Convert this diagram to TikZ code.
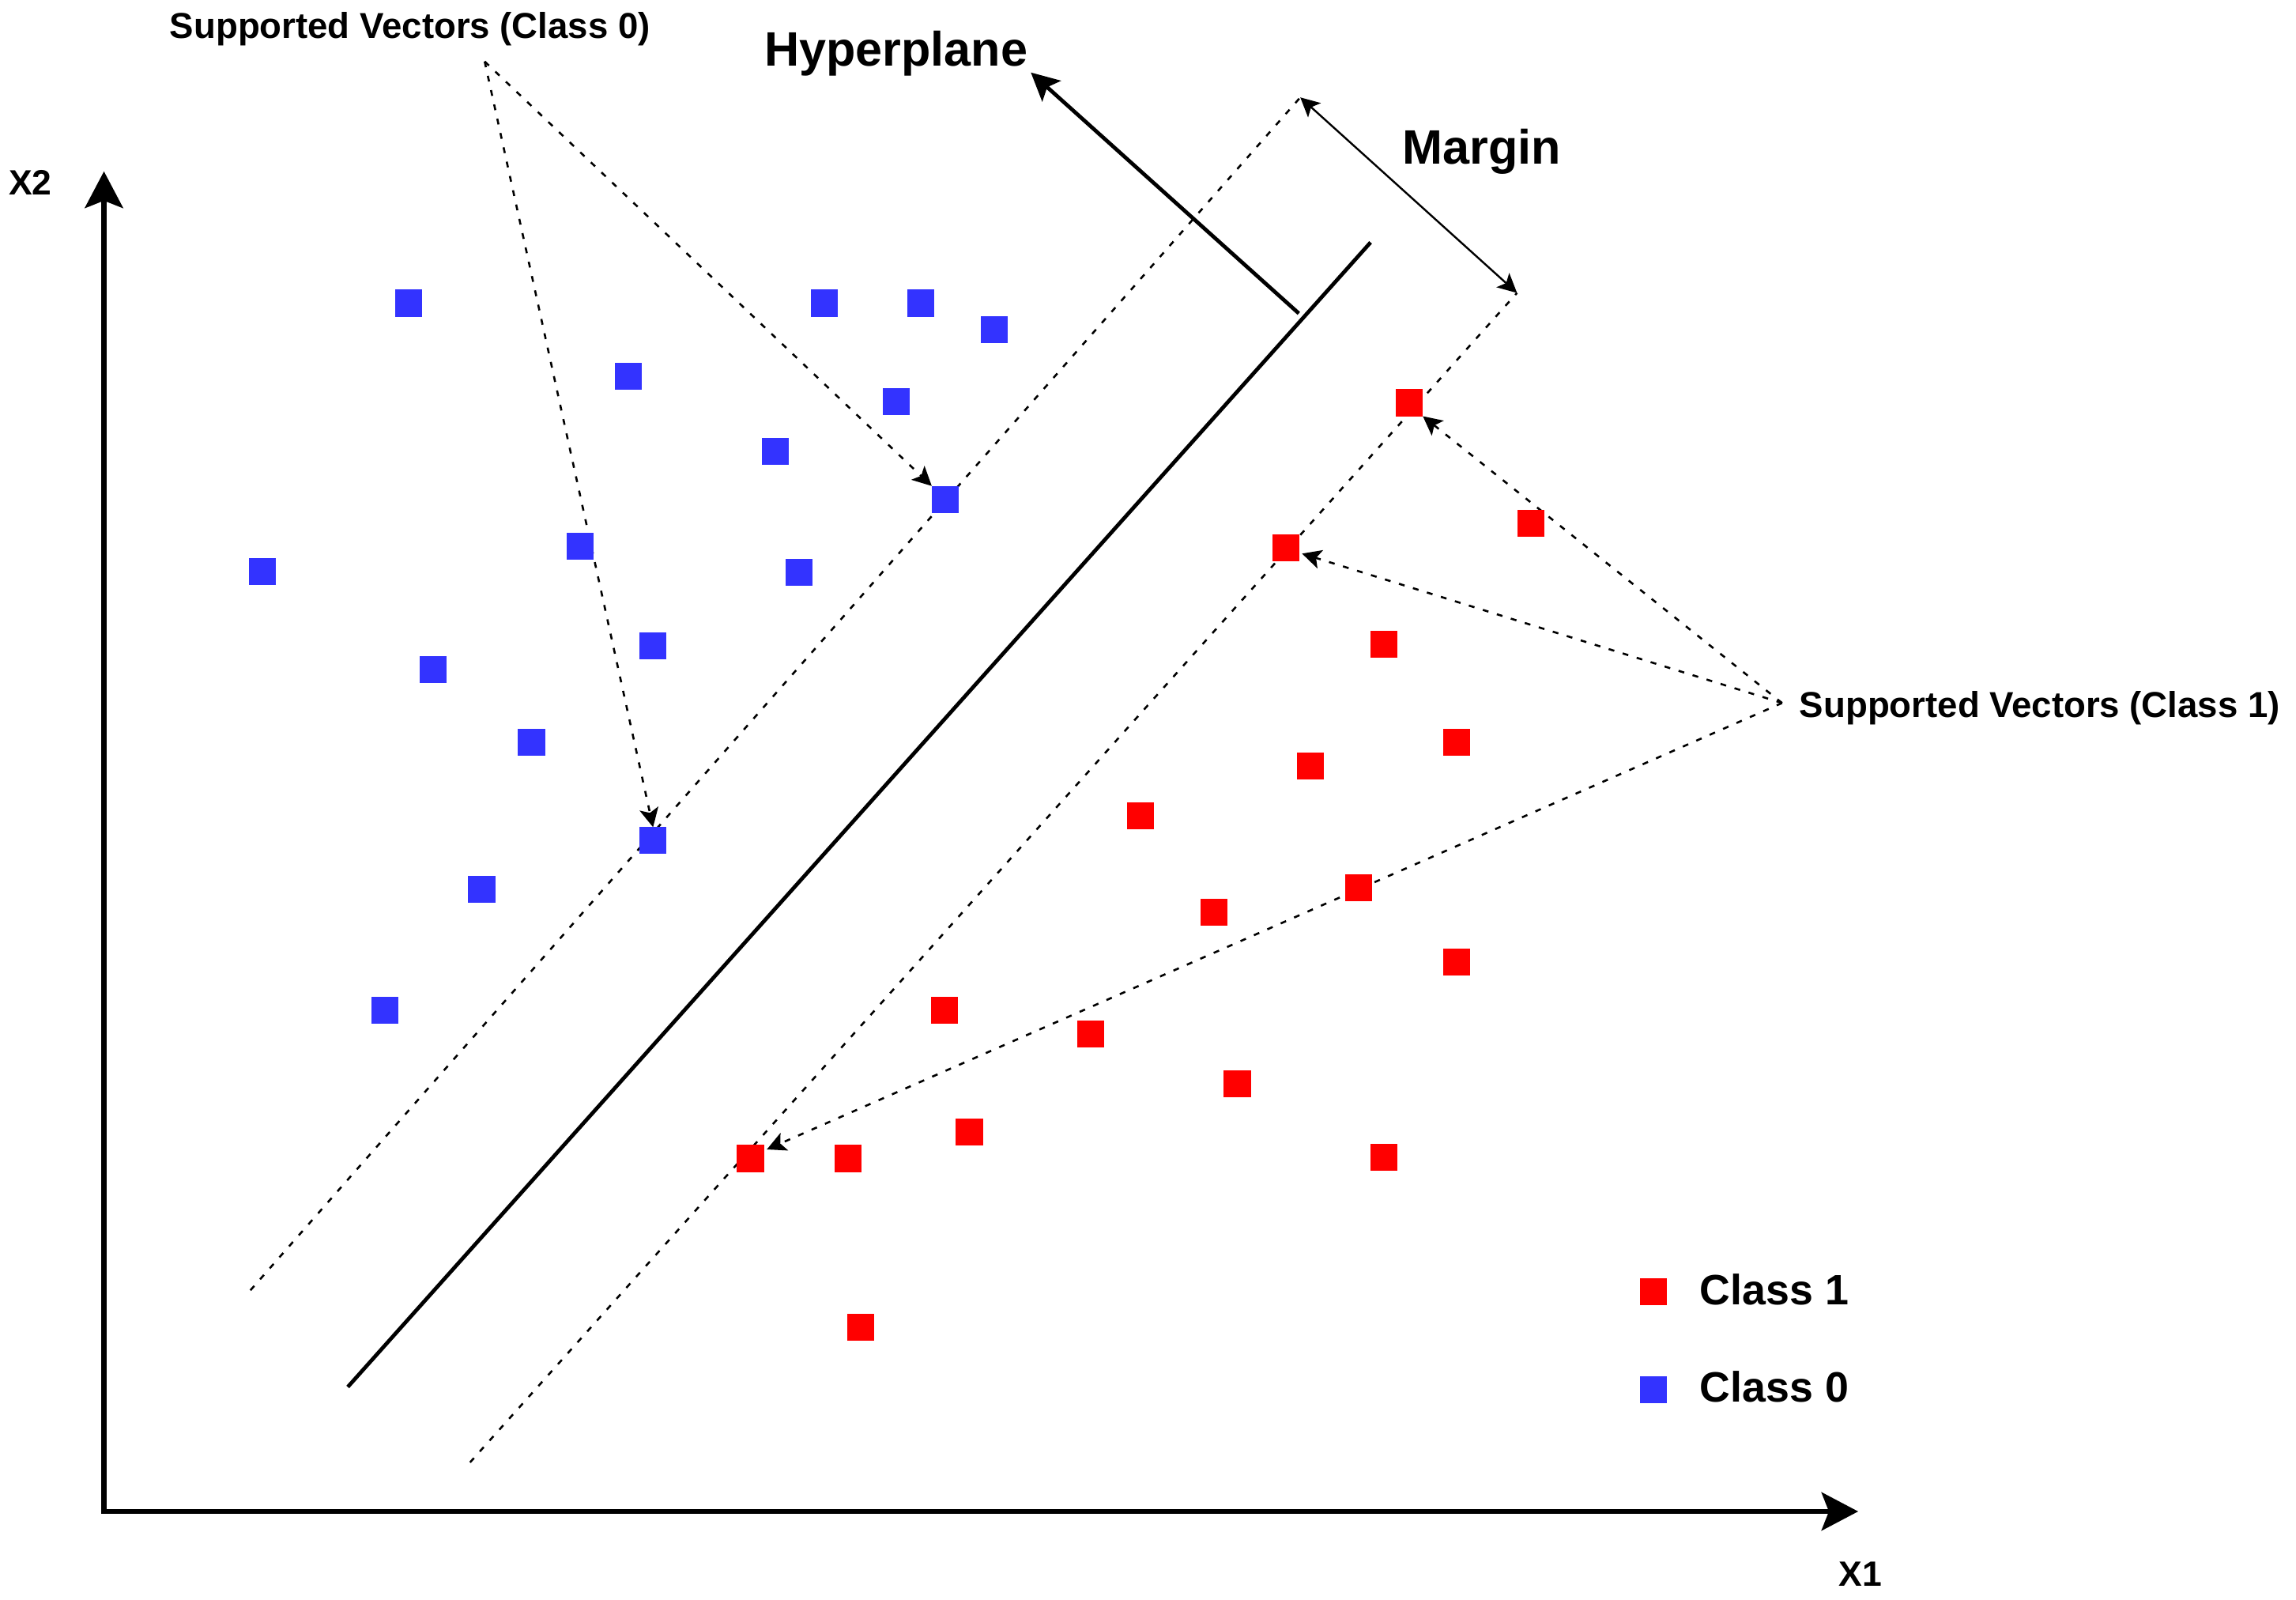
\documentclass[tikz,border=0pt]{standalone}
\usepackage{fontspec}
\setmainfont{Liberation Sans}
\usetikzlibrary{arrows.meta,calc,backgrounds}
\definecolor{bluept}{HTML}{3333FF}
\definecolor{redpt}{HTML}{FF0000}
\begin{document}
\begin{tikzpicture}[x=1pt,y=-1pt,
  pt/.style={minimum size=18.4pt,inner sep=0pt,outer sep=0pt},
  cz/.style={pt,fill=bluept},
  co/.style={pt,fill=redpt},
  lbl/.style={inner sep=0pt,outer sep=0pt,anchor=base west,font=\bfseries},
  dsh/.style={line width=1.4pt,dash pattern=on 4pt off 6pt},
  call/.style={dsh,-{Stealth[length=13pt,width=13pt,inset=3pt]}},
  axis/.style={line width=3.5pt,-{Stealth[length=25pt,width=26pt,inset=5pt]}},
]
\useasboundingbox (0,0) rectangle (1568,1092.45);

% axes
\coordinate (O) at (71,1032);
\coordinate (Ytop) at (71,117);
\coordinate (Xend) at (1269,1032);
\draw[axis] (O) -- (Ytop);
\draw[axis] ([xshift=-1.75pt]O) -- (Xend);
\node[lbl,font=\fontsize{24}{28}\selectfont\bfseries] (x2) at (6,133) {X2};
\node[lbl,font=\fontsize{24}{28}\selectfont\bfseries] (x1) at (1256,1083) {X1};

% class 0 points
\node[cz] (b1) at (279,207) {};
\node[cz] (b2) at (563,207) {};
\node[cz] (b3) at (629,207) {};
\node[cz] (b4) at (679,225) {};
\node[cz] (b5) at (429,257) {};
\node[cz] (b6) at (612,274) {};
\node[cz] (b7) at (529.5,308) {};
\node[cz] (b8) at (645.5,341) {};
\node[cz] (b9) at (179,390) {};
\node[cz] (b10) at (396,373) {};
\node[cz] (b11) at (545.6,391) {};
\node[cz] (b12) at (446,441) {};
\node[cz] (b13) at (296,457) {};
\node[cz] (b14) at (363,507) {};
\node[cz] (b15) at (446,574) {};
\node[cz] (b16) at (329,607) {};
\node[cz] (b17) at (263,690) {};

% class 1 points
\node[co] (r1) at (962.5,275) {};
\node[co] (r2) at (1045.5,357.5) {};
\node[co] (r3) at (878,374) {};
\node[co] (r4) at (945,440) {};
\node[co] (r5) at (995,507) {};
\node[co] (r6) at (895,523) {};
\node[co] (r7) at (779,557) {};
\node[co] (r8) at (928,606) {};
\node[co] (r9) at (829,623) {};
\node[co] (r10) at (995,657) {};
\node[co] (r11) at (645,690) {};
\node[co] (r12) at (745,706) {};
\node[co] (r13) at (845,740) {};
\node[co] (r14) at (662,773) {};
\node[co] (r15) at (512.5,791) {};
\node[co] (r16) at (579,791) {};
\node[co] (r17) at (945,790) {};
\node[co] (r18) at (588,906) {};

% hyperplane and margins
\coordinate (h1) at (237.5,947);
\coordinate (h2) at (936,165.5);
\coordinate (u1) at (171,881);
\coordinate (u2) at (888,66.5);
\coordinate (l1) at (321,998.5);
\coordinate (l2) at (1036,200);
\coordinate (ha) at (887,214);
\coordinate (hatip) at (704,49.5);
\coordinate (c0) at (331,42);
\coordinate (c1) at (1217,480);

\node[lbl,font=\fontsize{33}{38}\selectfont\bfseries] (hyp) at (522,45) {Hyperplane};
\node[lbl,font=\fontsize{33}{38}\selectfont\bfseries] (mar) at (958,112) {Margin};
\node[lbl,font=\fontsize{24.6}{28}\selectfont\bfseries] (sv0) at (116,26) {Supported Vectors (Class 0)};
\node[lbl,font=\fontsize{24.6}{28}\selectfont\bfseries] (sv1) at (1229,490) {Supported Vectors (Class 1)};

\begin{scope}[on background layer]
\draw[line width=2.6pt] (h1) -- (h2);
\draw[dsh] (u1) -- (u2);
\draw[dsh] (l1) -- (l2);
\draw[line width=1.3pt,{Stealth[length=13pt,width=13pt,inset=3pt]}-{Stealth[length=13pt,width=13pt,inset=3pt]}] (u2) -- (l2);
\draw[line width=2.6pt,-{Stealth[length=19pt,width=19pt,inset=4pt]}] (ha) -- (hatip);
\draw[call] (c0) -- (b8.north west);
\draw[call] (c0) -- (b15.north);
\draw[call] (c1) -- (r1.south east);
\draw[call] (c1) -- ($(r3.east)+(2,4)$);
\draw[call] (c1) -- ($(r15.north east)+(2,3)$);
\end{scope}

% legend
\node[co] (lg1) at (1129,882) {};
\node[lbl,font=\fontsize{29}{34}\selectfont\bfseries] (lt1) at (1161,891) {Class 1};
\node[cz] (lg0) at (1129,949) {};
\node[lbl,font=\fontsize{29}{34}\selectfont\bfseries] (lt0) at (1161,957.5) {Class 0};
\end{tikzpicture}
\end{document}
